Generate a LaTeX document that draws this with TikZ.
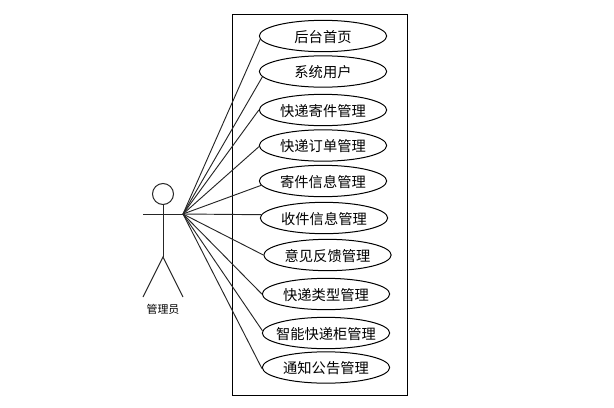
\documentclass[tikz,border=0pt]{standalone}
\usepackage{fontspec}
\setmainfont{Noto Sans CJK SC}
\usetikzlibrary{positioning,shapes.geometric}
\tikzset{
  usecase/.style={ellipse,draw=black,fill=white,line width=.75pt,inner ysep=0pt,inner xsep=-15pt,
    minimum width=#1,minimum height=23.5pt,text height=10.5pt,text depth=1pt,
    font=\fontsize{10.7pt}{12pt}\selectfont},
  usecase/.default=95.5pt,
  wire/.style={draw=black!85,line width=.7pt},
  tag/.style={font=\fontsize{8.2pt}{10pt}\selectfont,inner sep=0pt},
}
\begin{document}
\begin{tikzpicture}[x=.75pt,y=-.75pt]
  \useasboundingbox (0,0) rectangle (614,407);
  % system boundary
  \node[draw=black,line width=.75pt,minimum width=131pt,minimum height=285.75pt,inner sep=0pt] (sys) at (319.7,204.5) {};
  % actor
  \node[circle,draw=black!85,line width=.75pt,minimum size=15.75pt,inner sep=0pt] (head) at (163,194) {};
  \coordinate (lhand) at (143,214);
  \coordinate (hand) at (183,214);
  \coordinate (hip) at (163,257);
  \coordinate (lfoot) at (143,297);
  \coordinate (rfoot) at (183,297);
  \draw[wire] (head) -- (hip);
  \draw[wire] (lhand) -- (hand);
  \draw[wire] (lfoot) -- (hip) -- (rfoot);
  \node[tag] (admin) at (163,309) {管理员};
  % use cases
  \foreach \i/\x/\y/\a/\t in {1/323/36/183.7/后台首页,2/323/71.5/185/系统用户,3/323/110/180/快递寄件管理,
    4/323/145.5/181/快递订单管理,5/323/181/184/寄件信息管理,6/324/218/177/收件信息管理,
    7/327.5/255/180/意见反馈管理,8/326/294/180/快递类型管理,9/326/333/178/智能快递柜管理,10/326/367.5/181.5/通知公告管理} {
    \node[usecase] (uc\i) at (\x,\y) {\t};
    \draw[wire] (hand) -- (uc\i.\a);
  }
\end{tikzpicture}
\end{document}
